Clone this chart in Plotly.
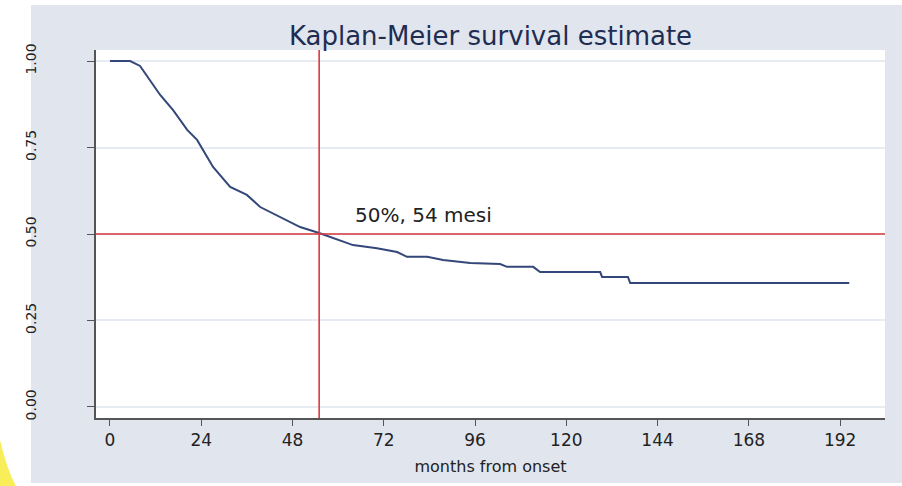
import plotly.graph_objects as go

# --- data ---
months = [0, 5.3, 7.9, 11.0, 13.2, 16.6, 20.3, 22.9, 27.1, 31.6, 36.0, 39.5, 44.7,
          50.0, 55.0, 57.9, 62.3, 63.9, 70.2, 75.5, 78.1, 83.4, 87.6, 94.7, 102.6,
          104.4, 111.3, 113.1, 128.9, 129.4, 136.2, 136.8, 194.4]
survival = [1.0, 1.0, 0.986, 0.936, 0.902, 0.858, 0.801, 0.772, 0.694, 0.636, 0.613,
            0.578, 0.549, 0.520, 0.503, 0.491, 0.474, 0.468, 0.459, 0.448, 0.434,
            0.434, 0.425, 0.416, 0.413, 0.405, 0.405, 0.390, 0.390, 0.376, 0.376,
            0.358, 0.358]
x_ticks = [0, 24, 48, 72, 96, 120, 144, 168, 192]
y_ticks = [0, 0.25, 0.5, 0.75, 1.0]
y_tick_labels = ["0.00", "0.25", "0.50", "0.75", "1.00"]
median_month = 55.0
median_surv = 0.5
median_label = "50%, 54 mesi"
title_text = "Kaplan-Meier survival estimate"
x_title = "months from onset"

W, H = 902, 486
L, R, T, B = 96, 17, 50, 68
pw, ph = W - L - R, H - T - B

def px_x(p):  # pixel -> paper x
    return (p - L) / pw

def px_y(p):  # pixel -> paper y
    return (H - B - p) / ph

BG = "#e0e5ee"
FONT = "DejaVu Sans"

fig = go.Figure()
fig.add_trace(go.Scatter(x=months, y=survival, mode="lines",
                         line=dict(color="#34477a", width=2), hoverinfo="skip",
                         showlegend=False))

fig.add_hline(y=median_surv, line=dict(color="#d8393f", width=1.6), layer="above")
fig.add_vline(x=median_month, line=dict(color="#d8393f", width=1.6), layer="above")

fig.add_annotation(x=63.9, y=0.555, xref="x", yref="y", text=median_label,
                   showarrow=False, xanchor="left", yanchor="middle",
                   font=dict(family=FONT, size=20, color="#222222"))

# white strips outside the blue-grey graph region + yellow corner
shapes = [
    dict(type="rect", xref="paper", yref="paper", x0=px_x(0), x1=px_x(31),
         y0=px_y(H), y1=px_y(0), fillcolor="white", line=dict(width=0), layer="below"),
    dict(type="rect", xref="paper", yref="paper", x0=px_x(0), x1=px_x(W),
         y0=px_y(5), y1=px_y(0), fillcolor="white", line=dict(width=0), layer="below"),
    dict(type="rect", xref="paper", yref="paper", x0=px_x(0), x1=px_x(W),
         y0=px_y(H), y1=px_y(483), fillcolor="white", line=dict(width=0), layer="below"),
    dict(type="path", xref="paper", yref="paper",
         path=(f"M {px_x(0)},{px_y(H)} L {px_x(0)},{px_y(440)} "
               f"Q {px_x(7)},{px_y(470)} {px_x(16)},{px_y(H)} Z"),
         fillcolor="#f7ee5a", line=dict(width=0), layer="below"),
]
for s in shapes:
    fig.add_shape(**s)

fig.update_layout(
    width=W, height=H,
    margin=dict(l=L, r=R, t=T, b=B, pad=0),
    paper_bgcolor=BG, plot_bgcolor="white",
    title=dict(text=title_text, x=0.5, xref="paper", y=1 - 36 / H, yref="container",
               xanchor="center", yanchor="middle",
               font=dict(family=FONT, size=26, color="#1f2d52")),
    font=dict(family=FONT, color="#222222"),
    xaxis=dict(range=[-3.68, 203.8], tickvals=x_ticks, showgrid=False, zeroline=False,
               showline=True, linecolor="#555555", linewidth=1.5,
               ticks="outside", ticklen=6, tickcolor="#555555", tickwidth=1.2,
               tickfont=dict(family=FONT, size=17, color="#222222"),
               title=dict(text=x_title, standoff=12,
                          font=dict(family=FONT, size=16, color="#222222"))),
    yaxis=dict(range=[-0.032, 1.032], tickvals=y_ticks, ticktext=y_tick_labels,
               showgrid=True, gridcolor="#e6ecf2", gridwidth=2, zeroline=False,
               showline=True, linecolor="#555555", linewidth=1.5,
               ticks="outside", ticklen=7, tickcolor="#555555", tickwidth=1.2,
               tickangle=-90, ticklabelstandoff=46,
               tickfont=dict(family=FONT, size=14, color="#222222")),
)

fig.write_html("out.html", config={"displayModeBar": False},
               post_script="document.body.style.margin='0px';")
